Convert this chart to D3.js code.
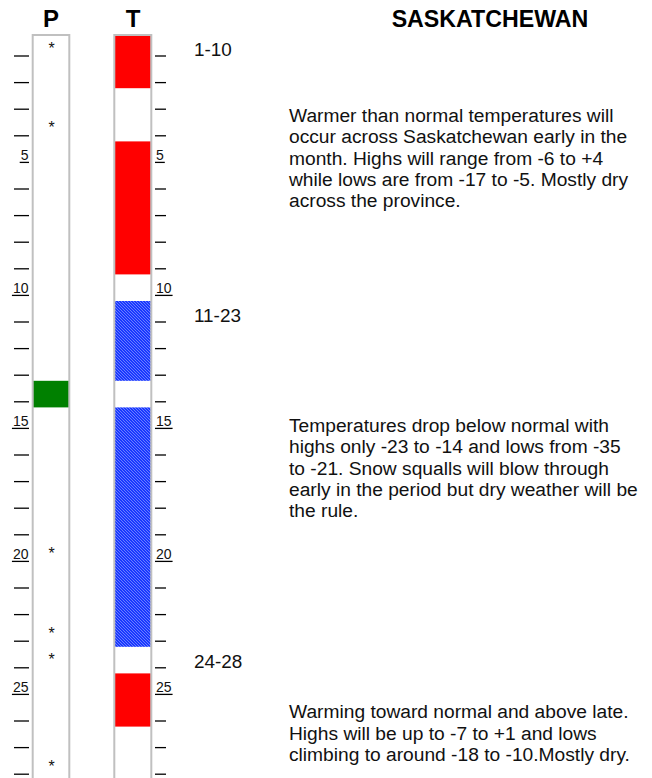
<!DOCTYPE html>
<html>
<head>
<meta charset="utf-8">
<script src="https://cdn.jsdelivr.net/npm/d3@7"></script>
<style>
  body { margin: 0; background: #fff; }
  svg { display: block; font-family: "Liberation Sans", Arial, sans-serif; }
</style>
</head>
<body>
<div id="vis"></div>
<script>
// data
const nDays = 28;
const labelDays = [5, 10, 15, 20, 25];

// temperature column: runs of days, above or below normal
const tempStart = [1, 5, 11, 15, 25];
const tempEnd = [2, 9, 13, 23, 26];
const tempType = ['above', 'above', 'below', 'below', 'above'];

// precipitation column: wet day(s) and flurry (asterisk) days
const wetDays = [14];
const flurryDays = [1, 4, 20, 23, 24, 28];

const periodLabels = ['1-10', '11-23', '24-28'];
const periodStart = [1, 11, 24];

const title = 'SASKATCHEWAN';
const notes = [
  ['Warmer than normal temperatures will',
    'occur across Saskatchewan early in the',
    'month. Highs will range from -6 to +4',
    'while lows are from -17 to -5. Mostly dry',
    'across the province.'],
  ['Temperatures drop below normal with',
    'highs only -23 to -14 and lows from -35',
    'to -21. Snow squalls will blow through',
    'early in the period but dry weather will be',
    'the rule.'],
  ['Warming toward normal and above late.',
    'Highs will be up to -7 to +1 and lows',
    'climbing to around -18 to -10.Mostly dry.'],
];

const width = 652;
const height = 778;
const rowH = 26.6;
const gridTop = 35;

const svg = d3.select('#vis')
  .append('svg')
  .attr('width', width)
  .attr('height', height);

// hatch for below normal
const pat = svg.append('defs').append('pattern')
  .attr('id', 'hatch')
  .attr('patternUnits', 'userSpaceOnUse')
  .attr('width', 3)
  .attr('height', 3);
pat.append('rect').attr('width', 3).attr('height', 3).attr('fill', '#1a38ff');
pat.append('path')
  .attr('d', 'M0,0 L3,3 M-1,2 L1,4 M2,-1 L4,1')
  .attr('stroke', '#7d92ff')
  .attr('stroke-width', 0.8);

// day -> top of its row
const y = d3.scaleLinear()
  .domain([1, nDays + 1])
  .range([gridTop, gridTop + nDays * rowH]);

const pX = {left: 31.7, right: 70.3};
const tX = {left: 113.3, right: 152.3};

// headers
svg.append('text').attr('x', 51).attr('y', 27)
  .attr('text-anchor', 'middle').attr('font-size', 24).attr('font-weight', 'bold')
  .text('P');
svg.append('text').attr('x', 133).attr('y', 27)
  .attr('text-anchor', 'middle').attr('font-size', 24).attr('font-weight', 'bold')
  .text('T');
svg.append('text').attr('x', 490).attr('y', 27)
  .attr('text-anchor', 'middle').attr('font-size', 23.2).attr('font-weight', 'bold')
  .text(title);

// temperature runs
const tempColor = {above: '#ff0000', below: 'url(#hatch)'};
svg.selectAll('rect.temp')
  .data(tempStart.map((s, i) => ({s: s, e: tempEnd[i], t: tempType[i]})))
  .enter()
  .append('rect')
  .attr('class', 'temp')
  .attr('x', tX.left + 1.7)
  .attr('width', tX.right - tX.left - 3.2)
  .attr('y', (d) => y(d.s))
  .attr('height', (d) => y(d.e + 1) - y(d.s))
  .attr('fill', (d) => tempColor[d.t]);

// wet days
svg.selectAll('rect.wet')
  .data(wetDays)
  .enter()
  .append('rect')
  .attr('class', 'wet')
  .attr('x', pX.left + 1)
  .attr('width', pX.right - pX.left - 2)
  .attr('y', (d) => y(d))
  .attr('height', (d) => y(d + 1) - y(d))
  .attr('fill', '#008000');

// flurries
svg.selectAll('text.flurry')
  .data(flurryDays)
  .enter()
  .append('text')
  .attr('class', 'flurry')
  .attr('x', 51.5)
  .attr('y', (d) => y(d) + 18.5)
  .attr('text-anchor', 'middle')
  .attr('font-size', 16)
  .attr('fill', '#111')
  .text('*');

// column frames
[pX, tX].forEach((c) => {
  svg.append('rect')
    .attr('x', c.left + 1)
    .attr('y', gridTop)
    .attr('width', c.right - c.left - 2)
    .attr('height', nDays * rowH + 2)
    .attr('fill', 'none')
    .attr('stroke', '#c0c0c0')
    .attr('stroke-width', 2);
});

// day ticks on both sides
const days = d3.range(1, nDays + 1);
const tickY = (d) => y(d) + 21;

const left = svg.append('g');
const right = svg.append('g');
days.forEach((d) => {
  const ty = tickY(d);
  const lab = labelDays.includes(d);
  if (lab) {
    const lt = left.append('text').attr('x', 28.5).attr('y', ty - 2)
      .attr('text-anchor', 'end').attr('font-size', 14).attr('fill', '#111')
      .text(d);
    const lw = lt.node().getComputedTextLength();
    left.append('line').attr('x1', 28.5 - lw - 1).attr('x2', 29)
      .attr('y1', ty).attr('y2', ty).attr('stroke', '#000').attr('stroke-width', 1.3);
    const rt = right.append('text').attr('x', 156).attr('y', ty - 2)
      .attr('font-size', 14).attr('fill', '#111')
      .text(d);
    const rw = rt.node().getComputedTextLength();
    right.append('line').attr('x1', 155).attr('x2', 156 + rw + 1)
      .attr('y1', ty).attr('y2', ty).attr('stroke', '#000').attr('stroke-width', 1.3);
  } else {
    left.append('line').attr('x1', 14).attr('x2', 29)
      .attr('y1', ty).attr('y2', ty).attr('stroke', '#000').attr('stroke-width', 1.3);
    right.append('line').attr('x1', 155).attr('x2', 166)
      .attr('y1', ty).attr('y2', ty).attr('stroke', '#000').attr('stroke-width', 1.3);
  }
});

// period labels
svg.selectAll('text.period')
  .data(periodLabels)
  .enter()
  .append('text')
  .attr('class', 'period')
  .attr('x', 194)
  .attr('y', (d, i) => y(periodStart[i]) + 21)
  .attr('font-size', 18.9)
  .attr('fill', '#111')
  .text((d) => d);

// notes
const noteY = [121.7, 431.7, 718.3];
notes.forEach((lines, i) => {
  const t = svg.append('text')
    .attr('x', 289)
    .attr('y', noteY[i])
    .attr('font-size', 19.2)
    .attr('fill', '#111');
  lines.forEach((s, j) => {
    t.append('tspan').attr('x', 289).attr('dy', j === 0 ? 0 : 21.4).text(s);
  });
});
</script>
</body>
</html>
